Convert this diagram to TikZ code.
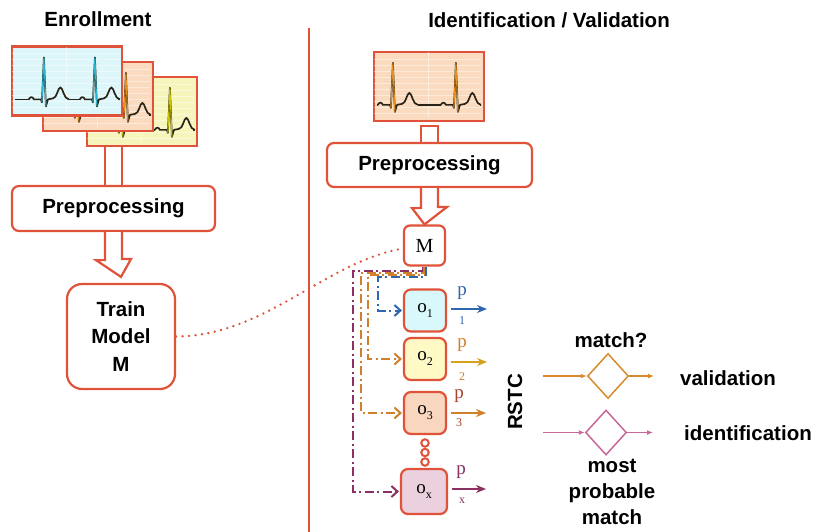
\documentclass[tikz,border=0pt]{standalone}
\usepackage{fontspec}
\setmainfont{Liberation Sans}
\newfontfamily\serifface{Liberation Serif}
\usetikzlibrary{arrows.meta,shapes.geometric,calc}

\definecolor{boxred}{HTML}{E0533A}
\definecolor{cyanbg}{HTML}{DDF6F9}
\definecolor{peachbg}{HTML}{FADBBF}
\definecolor{yellowbg}{HTML}{F6F6BC}
\definecolor{o1fill}{HTML}{D8F8FB}
\definecolor{o2fill}{HTML}{FFF9C6}
\definecolor{o3fill}{HTML}{F9D6BE}
\definecolor{oxfill}{HTML}{EBD0DE}
\definecolor{bluel}{HTML}{2F67AE}
\definecolor{goldl}{HTML}{D6A21E}
\definecolor{orangel}{HTML}{D0802A}
\definecolor{brownl}{HTML}{A4452C}
\definecolor{purpl}{HTML}{8C2F62}
\definecolor{orngd}{HTML}{D98A2E}
\definecolor{pinkd}{HTML}{C8689A}
\definecolor{spikecyan}{HTML}{29B5CF}
\definecolor{spikeorange}{HTML}{E6901C}
\definecolor{spikeyellow}{HTML}{C9C400}
\definecolor{tracedark}{HTML}{2A2418}

\tikzset{
  card/.style={draw=boxred, line width=2.2pt, minimum width=110pt, minimum height=69pt, inner sep=0pt},
  proc/.style={draw=boxred, line width=2.2pt, fill=white, inner sep=0pt,
    font=\fontsize{20.5}{27.5}\selectfont\bfseries, align=center},
  obox/.style={draw=boxred, line width=2.2pt, rounded corners=7pt, minimum width=42pt,
    minimum height=42pt, inner sep=0pt, font=\serifface\fontsize{19}{22}\selectfont},
  title/.style={font=\fontsize{20.5}{24}\selectfont\bfseries, inner sep=0pt},
  label/.style={font=\fontsize{20.5}{26}\selectfont\bfseries, inner sep=0pt, align=center},
  plabel/.style={font=\serifface\fontsize{19}{20}\selectfont, inner sep=0pt},
  psub/.style={font=\serifface\fontsize{12}{13}\selectfont, inner sep=0pt},
  shaft/.style={draw=boxred, line width=2.2pt, fill=white, line join=miter},
  trace/.style={draw=tracedark, line width=1.7pt, line join=round},
  gridline/.style={draw=white, line width=0.6pt, opacity=0.45},
  ddot/.style={line width=2pt, dash pattern=on 9pt off 3.5pt on 2pt off 3.5pt,
    -{Straight Barb[length=6pt,width=11pt,line width=2pt]}, shorten >=1pt},
  pout/.style={line width=2pt, -{Stealth[length=10pt,width=8pt]}},
  decision/.style={diamond, draw, line width=1.5pt, inner sep=0pt, minimum width=41pt, minimum height=45pt},
  thin/.style={line width=1.4pt, -{Latex[length=6pt,width=5pt]}},
}

% one heartbeat of the ECG trace, local card coordinates
\newcommand\ecgbeat[2]{%
  \draw[trace] (#1-15,54) .. controls (#1-14,51) and (#1-11,51) .. (#1-10,54)
    -- (#1-3,54) -- (#1-2,57) -- (#1,12) -- (#1+2,61) -- (#1+4,54) -- (#1+9,53)
    .. controls (#1+13,53) and (#1+14,42) .. (#1+16.5,42)
    .. controls (#1+19,42) and (#1+20,54) .. (#1+25,54);
  \draw[#2, line width=1.1pt] (#1-2,57) -- (#1,12) -- (#1+2,61);
}
% a whole ECG strip inside a card node
\newcommand\ecgstrip[4]{%
  \begin{scope}[shift={(#1.north west)}]
    \foreach \gy in {8,14,...,64} {\draw[gridline] (1.5,\gy) -- (108.5,\gy);}
    \draw[gridline] (55,1.5) -- (55,67.5);
    \draw[trace] (4,54) -- (#3-15,54);
    \draw[trace] (#3+25,54) -- (#4-15,54);
    \draw[trace] (#4+25,54) -- (107,54);
    \ecgbeat{#3}{#2}
    \ecgbeat{#4}{#2}
  \end{scope}
}

\begin{document}
\begin{tikzpicture}[x=1pt,y=-1pt]
\useasboundingbox (0,0) rectangle (816,532);
\fill[white] (0,0) rectangle (816,532);

% ---------------- enrollment ----------------
\node[title] (tenroll) at (98,19) {Enrollment};

\node[card, fill=yellowbg] (ecgC) at (142,111.5) {};
\ecgstrip{ecgC}{spikeyellow}{35}{84}
\node[card, fill=peachbg] (ecgB) at (98,96.5) {};
\ecgstrip{ecgB}{spikeorange}{35}{84}
\node[card, fill=cyanbg] (ecgA) at (67,81) {};
\ecgstrip{ecgA}{spikecyan}{33}{84}

\node[proc, rounded corners=7pt, minimum width=203pt, minimum height=45pt] (preL) at (113.5,208.5) {Preprocessing};
\node[proc, rounded corners=15pt, minimum width=108pt, minimum height=105pt] (train) at (121,336.5) {Train\\Model\\M};

% hollow block arrows of the enrollment column
\draw[boxred, line width=2.2pt] ([xshift=-8.5pt]ecgC.south -| preL.north) -- ([xshift=-8.5pt]preL.north);
\draw[boxred, line width=2.2pt] ([xshift=8.5pt]ecgC.south -| preL.north) -- ([xshift=8.5pt]preL.north);
\draw[shaft] ([xshift=-8.5pt]preL.south) -- ++(0,28) -- ++(-9,0) -- ($(train.north)+(0,-6)$)
  -- ([xshift=17.5pt]preL.south |- 0,259) -- ++(-9,0) -- ([xshift=8.5pt]preL.south);

% ---------------- divider ----------------
\draw[boxred, line width=2pt] (309,28) -- (309,532);

% ---------------- identification / validation ----------------
\node[title] (tident) at (549,20) {Identification / Validation};

\node[card, fill=peachbg] (ecgR) at (429,86.5) {};
\ecgstrip{ecgR}{spikeorange}{20}{83}

\draw[shaft] ([xshift=-8.5pt]429.5,143) -- ++(0,-17) -- ++(17,0) -- ++(0,17);
\node[proc, rounded corners=7pt, minimum width=205pt, minimum height=44pt] (preR) at (429.5,165) {Preprocessing};

\node[draw=boxred, line width=2.2pt, rounded corners=6pt, fill=white, minimum width=41pt,
  minimum height=40pt, inner sep=0pt, font=\serifface\fontsize{20}{22}\selectfont] (Mbox) at (424.5,245.5) {M};

\draw[shaft] ([xshift=-8.5pt]preR.south) -- ++(0,20) -- ++(-9,0) -- (Mbox.north)
  -- ([xshift=17.5pt]preR.south |- 0,207) -- ++(-9,0) -- ([xshift=8.5pt]preR.south);

% dotted link between the trained model and its use
\draw[boxred, line width=2.6pt, line cap=round, dash pattern=on 0pt off 6.5pt]
  (train.east) .. controls (265,336) and (325,262) .. ([yshift=-3pt]Mbox.west);

% output classifiers
\node[obox, fill=o1fill] (o1) at (425,310.5) {o\raisebox{-5pt}{\fontsize{12}{12}\selectfont 1}};
\node[obox, fill=o2fill] (o2) at (425,359) {o\raisebox{-5pt}{\fontsize{12}{12}\selectfont 2}};
\node[obox, fill=o3fill] (o3) at (425,413) {o\raisebox{-5pt}{\fontsize{12}{12}\selectfont 3}};
\node[obox, fill=oxfill, minimum width=46pt, minimum height=45pt] (ox) at (424,491.5) {o\raisebox{-5pt}{\fontsize{12}{12}\selectfont x}};

\foreach \cy [count=\i] in {443,452.5,462} {
  \node[circle, draw=boxred, line width=2pt, minimum size=7.5pt, inner sep=0pt] (dot\i) at (425,\cy) {};
}

% model distributed to each classifier
\draw[ddot, purpl] ([xshift=-2pt]Mbox.south) |- (353,271) |- (ox.west);
\draw[ddot, orangel] ([xshift=-1pt]Mbox.south) |- (361,273) |- (o3.west);
\draw[ddot, orangel] (Mbox.south) |- (368,275) |- (o2.west);
\draw[ddot, bluel] ([xshift=1pt]Mbox.south) |- (378,277) |- (o1.west);

% classifier outputs
\coordinate (e1) at (487,309);
\coordinate (e2) at (487,362);
\coordinate (e3) at (486,413);
\coordinate (ex) at (486,489);
\draw[pout, bluel] (o1.east |- e1) ++(4,0) -- (e1);
\draw[pout, goldl] (o2.east |- e2) ++(4,0) -- (e2);
\draw[pout, orangel] (o3.east |- e3) ++(4,0) -- (e3);
\draw[pout, purpl] (ox.east |- ex) ++(4,0) -- (ex);

\node[plabel, text=bluel] (p1) at (462,293) {p};
\node[psub, text=bluel] (s1) at (462,321) {1};
\node[plabel, text=orangel] (p2) at (462,345) {p};
\node[psub, text=orangel] (s2) at (462,377) {2};
\node[plabel, text=brownl] (p3) at (459,396) {p};
\node[psub, text=brownl] (s3) at (459,423) {3};
\node[plabel, text=purpl] (px) at (461,472) {p};
\node[psub, text=purpl] (sx) at (462,501) {x};

\node[label, rotate=90] (rstc) at (515,402) {RSTC};

% decision stages
\node[decision, draw=orngd] (d1) at (608,376) {};
\node[decision, draw=pinkd] (d2) at (606,432.5) {};
\coordinate (v0) at (543,376);
\coordinate (v1) at (654,376);
\coordinate (i0) at (543,432.5);
\coordinate (i1) at (653,432.5);
\draw[thin, orngd] (v0) -- (d1.west);
\draw[thin, orngd] (d1.east) -- (v1);
\draw[thin, pinkd] (i0) -- (d2.west);
\draw[thin, pinkd] (d2.east) -- (i1);

\node[label] (lmatch) at (611,340) {match?};
\node[label] (lvalid) at (728,378) {validation};
\node[label] (lident) at (748,433) {identification};
\node[label] (lmost) at (612,492) {most\\probable\\match};
\end{tikzpicture}
\end{document}
